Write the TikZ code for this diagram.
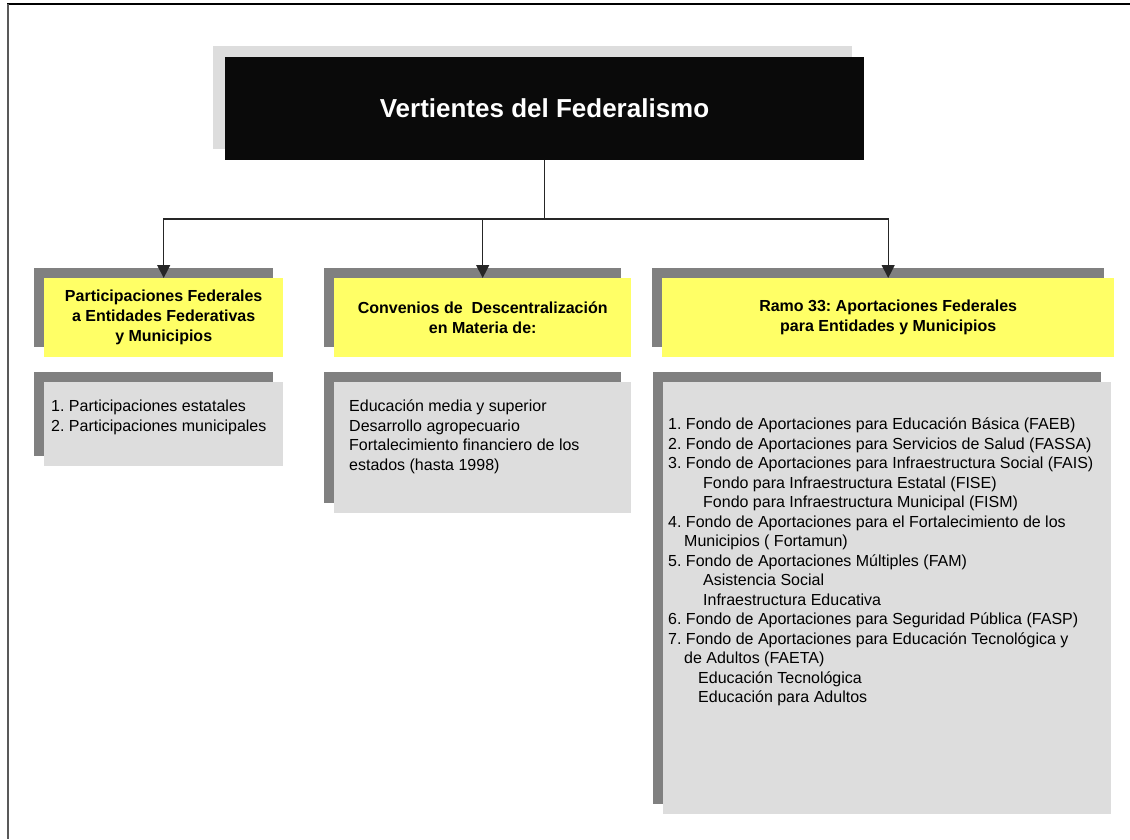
\documentclass[tikz,border=0pt]{standalone}
\usepackage{fontspec}
\setmainfont{Liberation Sans}
\usetikzlibrary{arrows.meta,positioning,shadows}
\definecolor{boxyellow}{HTML}{FFFF66}
\definecolor{shadegray}{HTML}{808080}
\definecolor{panelgray}{HTML}{DDDDDD}
\definecolor{titleblack}{HTML}{0A0A0A}
\frenchspacing
\tikzset{
  >=Triangle,
  every node/.append style={font=\fontsize{16}{19.5}\selectfont},
}
\tikzset{
  boxshadow/.style={general shadow={fill=shadegray, shadow xshift=-10pt, shadow yshift=10pt}},
  link/.style={line width=1.2pt, draw=black!85},
  linkarrow/.style={link, -{Triangle[length=13pt,width=13pt]}}
}

\begin{document}
\begin{tikzpicture}[
  x=1pt, y=-1pt,
  titlebox/.style={fill=titleblack, text=white, minimum width=639pt, minimum height=103pt,
    font=\fontsize{26}{30}\selectfont\bfseries,
    general shadow={fill=panelgray, shadow xshift=-12pt, shadow yshift=11pt}},
  head/.style ={boxshadow, fill=boxyellow, anchor=north west, inner sep=0pt, align=center,
    minimum height=79pt, font=\fontsize{16}{20}\selectfont\bfseries},
  panel/.style={boxshadow, fill=panelgray, anchor=north west, inner sep=0pt},
  items/.style={anchor=north west, align=left, inner sep=0pt}
]

\useasboundingbox (0,0) rectangle (1130,839);
\draw[black, line width=1.5pt] (7,4) -- (1130,4);
\draw[black!65, line width=2pt] (7.5,4) -- (7.5,839);

\node[titlebox] (title) at (544.5,108) {Vertientes del Federalismo};

% three branches
\node[head, minimum width=239pt] (partic) at (44,278)
  {Participaciones Federales\\a Entidades Federativas\\y Municipios};
\node[head, minimum width=297pt] (conv) at (334,278)
  {Convenios de~ Descentralización\\en Materia de:};
\node[head, minimum width=452pt] (ramo) at (662,278)
  {Ramo 33: Aportaciones Federales\\para Entidades y Municipios};

\node[panel, minimum width=239pt, minimum height=84pt] (particpanel) at (44,382) {};
\node[panel, minimum width=297pt, minimum height=131pt] (convpanel) at (334,382) {};
\node[panel, minimum width=448pt, minimum height=432pt] (ramopanel) at (663,382) {};

\node[items] (particitems) at ([xshift=7pt,yshift=-18pt]particpanel.north west)
  {1. Participaciones estatales\\2. Participaciones municipales};
\node[items] (convitems) at ([xshift=15pt,yshift=-18pt]convpanel.north west)
  {Educación media y superior\\Desarrollo agropecuario\\Fortalecimiento financiero de los\\estados (hasta 1998)};
\node[items] (ramoitems) at ([xshift=5pt,yshift=-36pt]ramopanel.north west)
  {1. Fondo de Aportaciones para Educación Básica (FAEB)\\
   2. Fondo de Aportaciones para Servicios de Salud (FASSA)\\
   3. Fondo de Aportaciones para Infraestructura Social (FAIS)\\
   \hspace*{35pt}Fondo para Infraestructura Estatal (FISE)\\
   \hspace*{35pt}Fondo para Infraestructura Municipal (FISM)\\
   4. Fondo de Aportaciones para el Fortalecimiento de los\\
   \hspace*{16pt}Municipios ( Fortamun)\\
   5. Fondo de Aportaciones Múltiples (FAM)\\
   \hspace*{35pt}Asistencia Social\\
   \hspace*{35pt}Infraestructura Educativa\\
   6. Fondo de Aportaciones para Seguridad Pública (FASP)\\
   7. Fondo de Aportaciones para Educación Tecnológica y\\
   \hspace*{16pt}de Adultos (FAETA)\\
   \hspace*{30pt}Educación Tecnológica\\
   \hspace*{30pt}Educación para Adultos};

\coordinate (split) at (544.5,219);
\draw[link] (title.south) -- (split);
\draw[linkarrow] (split) -| (partic.north);
\draw[linkarrow] (split) -| (conv.north);
\draw[linkarrow] (split) -| (ramo.north);

\end{tikzpicture}
\end{document}
